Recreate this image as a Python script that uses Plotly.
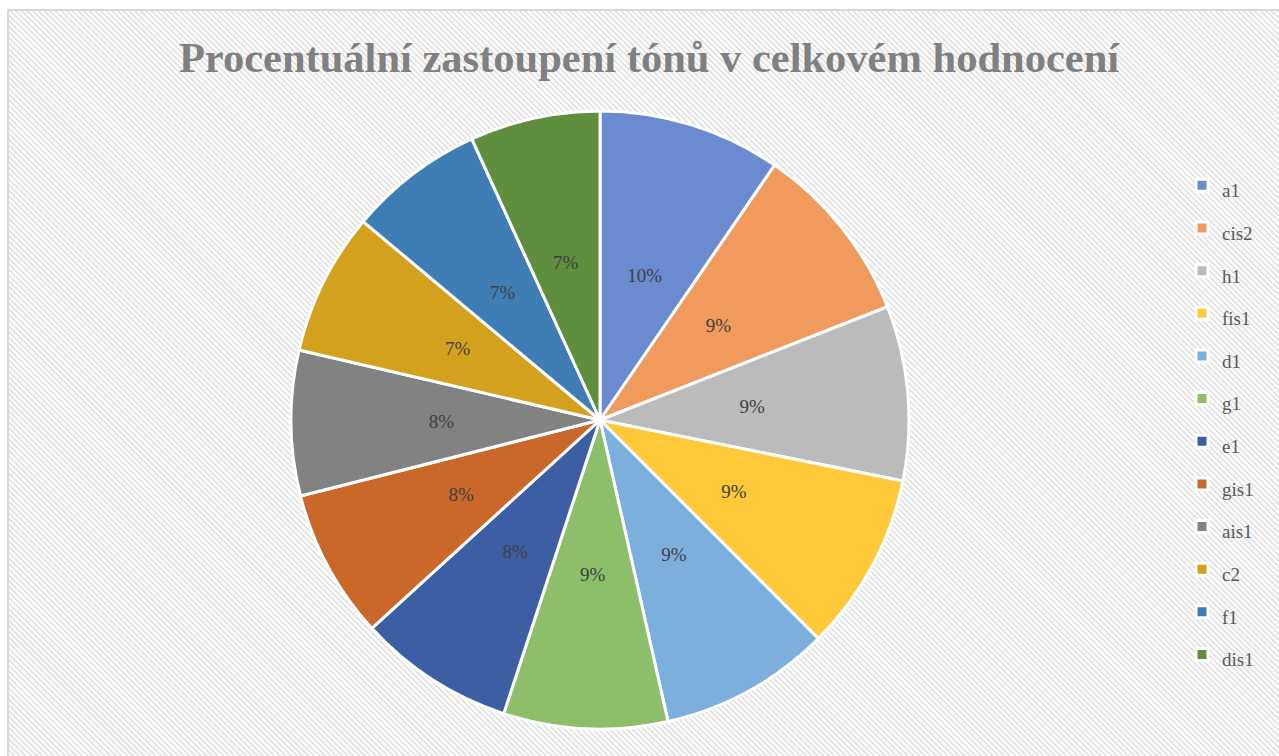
import base64
import plotly.graph_objects as go

# ---- data ----
categories = ["a1", "cis2", "h1", "fis1", "d1", "g1", "e1", "gis1", "ais1", "c2", "f1", "dis1"]
values = [9.55, 9.45, 9.12, 9.33, 8.95, 8.56, 8.17, 7.81, 7.58, 7.45, 7.08, 6.80]
colors = ["#6A8BD0", "#F09A5E", "#BBBBBB", "#FFC93A", "#7DAFDD", "#8DBF6A",
          "#3C5FA3", "#C9682A", "#828282", "#D3A11E", "#3F7DB5", "#5E8E3E"]
title_text = "Procentuální zastoupení tónů v celkovém hodnocení"

W, H = 1279, 756
CX, CY, R = 600, 420, 309      # pie centre / radius in px
RT = 196                        # radius of the (invisible) label pie

svg = (
    '<svg xmlns="http://www.w3.org/2000/svg" width="1271" height="746" preserveAspectRatio="none">'
    '<defs><pattern id="p" width="4" height="4" patternUnits="userSpaceOnUse" patternTransform="rotate(-45)">'
    '<rect width="4" height="4" fill="#ffffff"/><rect width="2" height="4" fill="#e4e4e4"/></pattern></defs>'
    '<rect width="100%" height="100%" fill="url(#p)"/></svg>'
)
svg_uri = "data:image/svg+xml;base64," + base64.b64encode(svg.encode()).decode()

legend_labels = [f"<span style='font-size:19px'>{c}</span>" for c in categories]


def dom(r):
    return dict(x=[(CX - r) / W, (CX + r) / W], y=[(H - CY - r) / H, (H - CY + r) / H])


fig = go.Figure()
fig.add_trace(go.Pie(
    labels=legend_labels,
    values=values,
    sort=False,
    direction="clockwise",
    rotation=0,
    marker=dict(colors=colors, line=dict(color="white", width=3)),
    textinfo="none",
    domain=dom(R),
    hoverinfo="label+percent",
))
fig.add_trace(go.Pie(
    labels=legend_labels,
    values=values,
    sort=False,
    direction="clockwise",
    rotation=0,
    marker=dict(colors=["rgba(0,0,0,0)"] * len(values), line=dict(width=0)),
    texttemplate="%{percent:.0%}",
    textposition="inside",
    insidetextorientation="horizontal",
    textfont=dict(family="Liberation Serif", size=19, color="#404040"),
    domain=dom(RT),
    showlegend=False,
    hoverinfo="skip",
))

fig.update_layout(
    width=W, height=H,
    margin=dict(l=0, r=0, t=0, b=0),
    paper_bgcolor="white",
    title=dict(text="<b>" + title_text + "</b>", x=649 / W, xanchor="center",
               y=1 - 57 / H, yanchor="middle",
               font=dict(family="Liberation Serif", size=42.5, color="#808080")),
    legend=dict(x=1182 / W, xanchor="left", y=1 - 420 / H, yanchor="middle",
                font=dict(family="Liberation Serif", size=30.5, color="#595959"),
                bgcolor="rgba(0,0,0,0)", itemwidth=30),
    images=[dict(source=svg_uri, xref="paper", yref="paper", x=8 / W, y=1 - 10 / H,
                 sizex=1 - 8 / W, sizey=1 - 10 / H, sizing="stretch", layer="below",
                 xanchor="left", yanchor="top")],
    shapes=[dict(type="rect", xref="paper", yref="paper", x0=8 / W, x1=1.2, y0=-0.2, y1=1 - 10 / H,
                 line=dict(color="#D9D9D9", width=2), fillcolor="rgba(0,0,0,0)")],
)

fig.write_html("out.html", config={"displayModeBar": False},
               post_script="document.body.style.margin='0';document.body.style.overflow='hidden';")
